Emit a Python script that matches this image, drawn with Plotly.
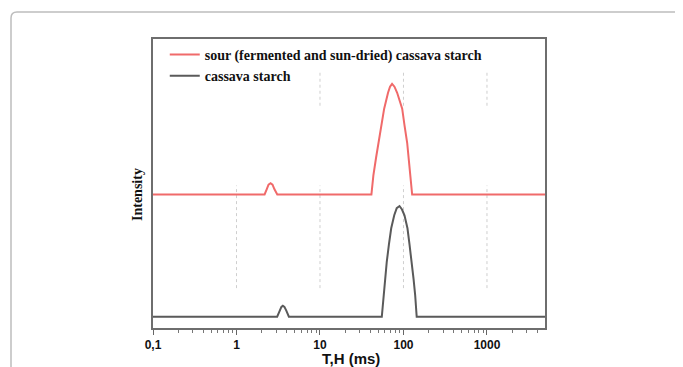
import plotly.graph_objects as go

# ---- data ----
sour_x = [0.1, 2.17, 2.3, 2.42, 2.56, 2.7, 2.85, 3.08,
          41.3, 43.6, 47, 50, 54, 58.7, 65.3, 69, 73, 78, 84, 90, 96.5,
          103, 110.7, 116, 120, 124, 127, 5000]
sour_y = [0.462, 0.462, 0.48, 0.496, 0.501, 0.496, 0.48, 0.462,
          0.462, 0.528, 0.59, 0.641, 0.70, 0.759, 0.814, 0.835, 0.845, 0.835, 0.814, 0.79, 0.759,
          0.70, 0.641, 0.58, 0.528, 0.48, 0.462, 0.462]

cass_x = [0.1, 3.07, 3.3, 3.45, 3.59, 3.75, 3.95, 4.24,
          55, 57.8, 63, 67, 71.3, 77.5, 83, 89.6, 96, 102.8, 111.6, 118, 126, 132, 138, 144, 5000]
cass_y = [0.039, 0.039, 0.06, 0.073, 0.077, 0.073, 0.06, 0.039,
          0.039, 0.114, 0.228, 0.29, 0.345, 0.39, 0.415, 0.422, 0.41, 0.39, 0.345, 0.29, 0.228, 0.17, 0.114, 0.039, 0.039]

series_names = ["sour (fermented and sun-dried) cassava starch", "cassava starch"]

tick_vals = [0.1, 1, 10, 100, 1000]
tick_text = ["0,1", "1", "10", "100", "1000"]

grid_upper_x = [10, 100, 1000]
grid_upper_y = [0.769, 0.89]
grid_lower_x = [1, 10, 100, 1000]
grid_lower_y = [0.138, 0.493]

# ---- figure ----
fig = go.Figure()

gx, gy = [], []
for xv in grid_upper_x:
    gx += [xv, xv, None]
    gy += [grid_upper_y[0], grid_upper_y[1], None]
for xv in grid_lower_x:
    gx += [xv, xv, None]
    gy += [grid_lower_y[0], grid_lower_y[1], None]
fig.add_trace(go.Scatter(x=gx, y=gy, mode="lines", showlegend=False, hoverinfo="skip",
                         line=dict(color="#cfcfcf", width=1, dash="dot")))

fig.add_trace(go.Scatter(x=sour_x, y=sour_y, mode="lines", name=series_names[0],
                         line=dict(color="#f06a6a", width=2)))
fig.add_trace(go.Scatter(x=cass_x, y=cass_y, mode="lines", name=series_names[1],
                         line=dict(color="#5a5a5a", width=2)))

# page has an 8px body margin: figure spans screen x 8..683, y 8..367
PW, PH = 392, 289  # plot area size in px (screen x 153..545, y 39..328)
r_x = 6 / PW
r_y = 6 / PH
x_l = (11 - 153) / PW
y_t = (328 - 12) / PH
fig.add_shape(type="path", xref="paper", yref="paper",
              path=(f"M {x_l},-0.3 L {x_l},{y_t - r_y} Q {x_l},{y_t} {x_l + r_x},{y_t} "
                    f"L 1.5,{y_t}"),
              line=dict(color="#bdbdbd", width=1.5))

fig.update_layout(
    width=675, height=359,
    margin=dict(l=145, r=138, t=31, b=39, autoexpand=False),
    paper_bgcolor="white", plot_bgcolor="white",
    showlegend=True,
    legend=dict(x=0.03, y=1.0, xanchor="left", yanchor="top",
                bgcolor="rgba(0,0,0,0)", borderwidth=0, tracegroupgap=0,
                itemwidth=30,
                font=dict(family="Liberation Serif", size=14, color="#111", weight="bold")),
    xaxis=dict(type="log", range=[-1, 3.695], automargin=False,
               tickvals=tick_vals, ticktext=tick_text,
               ticks="outside", ticklen=5, tickwidth=1.2, tickcolor="#666",
               minor=dict(ticks="outside", ticklen=3, tickwidth=1, tickcolor="#777",
                          dtick="D1", showgrid=False),
               showgrid=False, zeroline=False,
               showline=True, linecolor="#6e6e6e", linewidth=1.8, mirror=True,
               tickfont=dict(family="Liberation Sans", size=12, color="#111", weight="bold")),
    yaxis=dict(range=[0, 1], showticklabels=False, ticks="", showgrid=False, zeroline=False,
               automargin=False,
               showline=True, linecolor="#6e6e6e", linewidth=1.8, mirror=True),
    annotations=[
        dict(text="Intensity", xref="paper", yref="paper",
             x=(137 - 153) / PW, y=(328 - 195) / PH, textangle=-90,
             showarrow=False, xanchor="center", yanchor="middle",
             font=dict(family="Liberation Serif", size=14, color="#111", weight="bold")),
        dict(text="T,H (ms)", xref="paper", yref="paper",
             x=(351 - 153) / PW, y=(328 - 358) / PH,
             showarrow=False, xanchor="center", yanchor="middle",
             font=dict(family="Liberation Sans", size=15, color="#111", weight="bold")),
    ],
)

fig.write_html("out.html")
